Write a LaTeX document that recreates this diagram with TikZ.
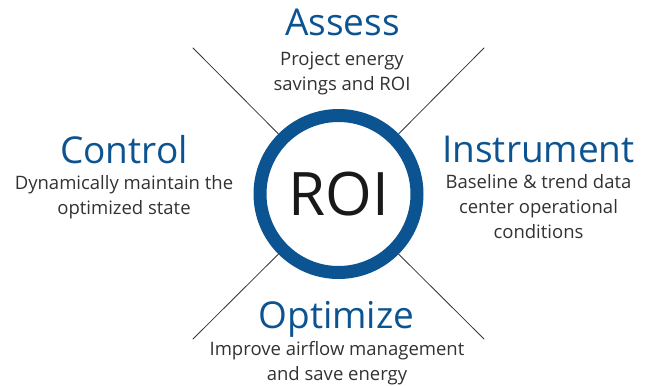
\documentclass[tikz,border=0pt]{standalone}
\usepackage{fontspec}
\setmainfont{Open Sans}
\definecolor{roiblue}{RGB}{12,84,145}
\definecolor{notegray}{RGB}{50,50,50}

\begin{document}
\begin{tikzpicture}[line cap=round,line join=round,x=1pt,y=-1pt,
  phase/.style={text=roiblue, inner sep=0pt, anchor=base, font=\fontsize{37}{37}\selectfont},
  note/.style={text=notegray, inner sep=0pt, anchor=base, align=center, font=\fontsize{18.5}{25}\selectfont},
  spoke/.style={line width=0.8pt, black!80}]
\useasboundingbox (0,0) rectangle (649,386);

\node [draw=roiblue, line width=13pt, circle, minimum size=157pt, inner sep=0pt,
  text=black!90, font=\fontsize{60}{60}\selectfont] (roi) at (338.5,194) {ROI};

\coordinate (nw) at (193,48);
\coordinate (ne) at (484,48);
\coordinate (sw) at (193,339);
\coordinate (se) at (484,339);
\draw [spoke] (nw) -- (roi.135);
\draw [spoke] (ne) -- (roi.45);
\draw [spoke] (sw) -- (roi.225);
\draw [spoke] (se) -- (roi.315);

% titles, then the notes under them (base = last line)
\node [phase] (assess) at (342.5,35) {Assess};
\node [note] (assessnote) at (342,90) {Project energy\\savings and ROI};
\node [phase] (control) at (124,163) {Control};
\node [note] (controlnote) at (124,214) {Dynamically maintain the\\optimized state};
\node [phase] (instrument) at (538.5,162) {Instrument};
\node [note] (instrumentnote) at (538.5,238) {Baseline \& trend data\\center operational\\conditions};
\node [phase] (optimize) at (336.5,328) {Optimize};
\node [note] (optimizenote) at (337,380) {Improve airflow management\\and save energy};
\end{tikzpicture}
\end{document}
